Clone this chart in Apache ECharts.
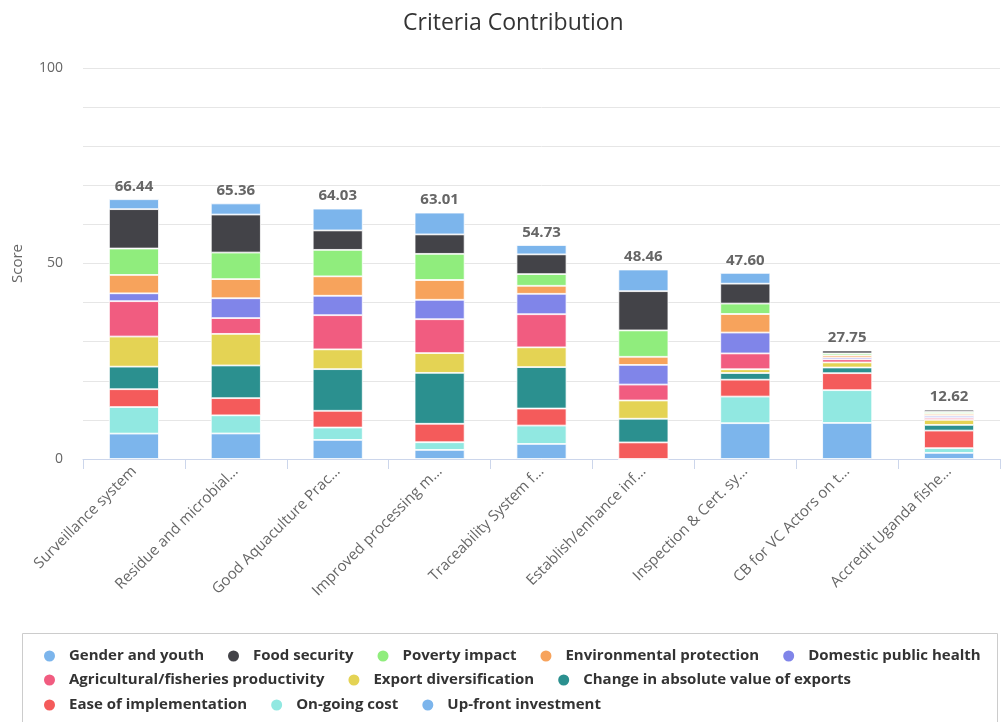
<!DOCTYPE html>
<html>
<head>
<meta charset="utf-8">
<script src="https://cdn.jsdelivr.net/npm/echarts@6/dist/echarts.min.js"></script>
<style>
  html, body { margin: 0; padding: 0; background: #fff; }
  #chart { width: 1002px; height: 722px; }
</style>
</head>
<body>
<div id="chart"></div>
<script>
// Projects (x axis), shortened the way they are shown under the bars
const categories = [
  'Surveillance system',
  'Residue and microbial\u2026',
  'Good Aquaculture Prac\u2026',
  'Improved processing m\u2026',
  'Traceability System f\u2026',
  'Establish/enhance inf\u2026',
  'Inspection & Cert. sy\u2026',
  'CB for VC Actors on t\u2026',
  'Accredit Uganda fishe\u2026'
];

// Score contributed by each criterion, one value per project
const genderAndYouth        = [2.54, 2.84, 5.57, 5.57, 2.39, 5.54, 2.76, 0, 0];
const foodSecurity          = [10.07, 9.72, 4.97, 4.97, 5.05, 10.03, 5.09, 0.75, 0.60];
const povertyImpact         = [6.76, 6.79, 6.77, 6.69, 2.99, 6.75, 2.67, 0.50, 0.50];
const environmentalProt     = [4.69, 4.90, 4.97, 5.06, 2.05, 2.08, 4.74, 0.55, 0.50];
const domesticPublicHealth  = [2.02, 5.07, 4.97, 4.97, 5.22, 5.02, 5.34, 0.45, 0.50];
const agriFisheriesProd     = [9.04, 4.04, 8.74, 8.66, 8.47, 4.07, 4.05, 0.80, 0.50];
const exportDiversification = [7.70, 8.08, 5.06, 5.06, 5.05, 4.67, 0.95, 1.30, 1.30];
const changeValueExports    = [5.77, 8.36, 10.65, 13.02, 10.60, 6.06, 1.72, 1.45, 1.45];
const easeOfImplementation  = [4.56, 4.39, 4.28, 4.72, 4.36, 4.24, 4.31, 4.35, 4.50];
const onGoingCost           = [6.79, 4.64, 3.17, 1.97, 4.70, 0, 6.81, 8.38, 1.20];
const upFrontInvestment     = [6.50, 6.53, 4.88, 2.32, 3.85, 0, 9.16, 9.22, 1.57];

// Stack totals written above each bar
const totals = [66.44, 65.36, 64.03, 63.01, 54.73, 48.46, 47.60, 27.75, 12.62];

// Y axis tick labels
const yTickLabels = [0, 50, 100];

// Legend order (top of the stack first)
const criteria = [
  ['Gender and youth', genderAndYouth, '#7cb5ec'],
  ['Food security', foodSecurity, '#434348'],
  ['Poverty impact', povertyImpact, '#90ed7d'],
  ['Environmental protection', environmentalProt, '#f7a35c'],
  ['Domestic public health', domesticPublicHealth, '#8085e9'],
  ['Agricultural/fisheries productivity', agriFisheriesProd, '#f15c80'],
  ['Export diversification', exportDiversification, '#e4d354'],
  ['Change in absolute value of exports', changeValueExports, '#2b908f'],
  ['Ease of implementation', easeOfImplementation, '#f45b5b'],
  ['On-going cost', onGoingCost, '#91e8e1'],
  ['Up-front investment', upFrontInvestment, '#7cb5ec']
];

const FONT = '"Open Sans", "Noto Sans", sans-serif';

// ECharts stacks from the first series upward, so build bottom-to-top
const series = criteria.slice().reverse().map(([name, values, color]) => ({
  name: name,
  type: 'bar',
  stack: 'score',
  barWidth: 50,
  data: values,
  itemStyle: { color: color, borderColor: '#ffffff', borderWidth: 0.8 },
  emphasis: { disabled: true }
}));

// Zero-height cap on every stack that carries the total label
series.push({
  name: 'total',
  type: 'bar',
  stack: 'score',
  barWidth: 50,
  data: totals.map(() => 0),
  itemStyle: { color: 'transparent' },
  label: {
    show: true,
    position: 'top',
    distance: 5,
    formatter: (p) => totals[p.dataIndex].toFixed(2),
    color: '#666666',
    fontWeight: 'bold',
    fontSize: 15,
    fontFamily: FONT
  },
  emphasis: { disabled: true }
});

// Legend laid out as three left-aligned rows inside one framed box
const legendRows = [[0, 5], [5, 8], [8, 11]];
const legendRowTop = [647, 671, 696];
const legends = legendRows.map(([a, b], i) => ({
  data: criteria.slice(a, b).map(c => c[0]),
  left: 42,
  top: legendRowTop[i],
  width: 960,
  padding: 0,
  orient: 'horizontal',
  icon: 'circle',
  itemWidth: 13,
  itemHeight: 13,
  itemGap: 22,
  selectedMode: false,
  textStyle: {
    color: '#333333', fontSize: 15, fontWeight: 'bold', fontFamily: FONT,
    lineHeight: 18, padding: [0, 0, 0, 8]
  }
}));

const chart = echarts.init(document.getElementById('chart'), null, { renderer: 'canvas' });
chart.setOption({
  animation: false,
  backgroundColor: '#ffffff',
  title: {
    text: 'Criteria Contribution',
    left: 398,
    top: 7,
    textStyle: { color: '#333333', fontSize: 23, fontWeight: 'normal', fontFamily: FONT }
  },
  grid: { left: 83, right: 2, top: 68, bottom: 263, containLabel: false },
  legend: legends,
  graphic: [{
    type: 'rect',
    silent: true,
    shape: { x: 22.5, y: 633.5, width: 975, height: 120 },
    style: { fill: 'none', stroke: '#cccccc', lineWidth: 1 }
  }],
  xAxis: {
    type: 'category',
    data: categories,
    axisLine: { lineStyle: { color: '#ccd6eb' } },
    axisTick: { show: true, length: 10, lineStyle: { color: '#ccd6eb' } },
    axisLabel: {
      rotate: 45,
      margin: 10,
      color: '#666666',
      fontSize: 15,
      fontFamily: FONT,
      interval: 0
    }
  },
  yAxis: {
    type: 'value',
    min: 0,
    max: 100,
    interval: 10,
    name: 'Score',
    nameLocation: 'middle',
    nameGap: 58,
    nameTextStyle: { color: '#666666', fontSize: 15, fontFamily: FONT },
    axisLine: { show: false },
    axisTick: { show: false },
    axisLabel: {
      color: '#666666',
      fontSize: 14,
      fontFamily: FONT,
      margin: 20,
      formatter: (v) => (yTickLabels.indexOf(v) >= 0 ? String(v) : '')
    },
    splitLine: { lineStyle: { color: '#e6e6e6' } }
  },
  tooltip: { show: false },
  series: series
});
</script>
</body>
</html>
